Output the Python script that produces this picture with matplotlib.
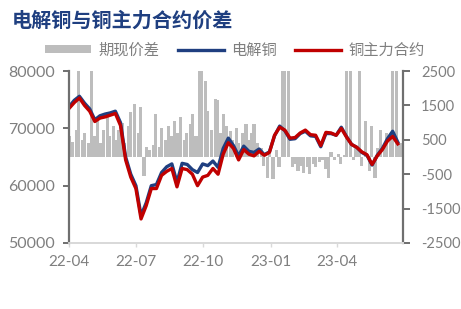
import matplotlib

matplotlib.use("Agg")
import matplotlib.dates as mdates
import matplotlib.pyplot as plt
import pandas as pd
from matplotlib.lines import Line2D
from matplotlib.patches import Patch

TITLE = "电解铜与铜主力合约价差"
LEGEND_LABELS = ["期现价差", "电解铜", "铜主力合约"]
X_TICKS = ["2022-04-01", "2022-07-01", "2022-10-01", "2023-01-01", "2023-04-01"]

# weekly prices (yuan/t)
spot = [
    73800, 74900, 75600, 74400, 73400, 71500, 72200, 72500, 72700, 73000,
    71000, 65000, 62000, 60000, 54800, 57000, 60000, 60200, 62300, 63300,
    63800, 60600, 63900, 63700, 62800, 62300, 63800, 63500, 64300, 63200,
    66500, 68300, 67000, 65200, 66900, 66000, 65800, 66400, 65400, 65900,
    68700, 70400, 69600, 68100, 68200, 69100, 69500, 68700, 68600, 66800,
    69100, 69100, 68800, 70200, 68600, 67200, 66700, 65800, 65300, 63600,
    65300, 66500, 68200, 69500, 67600,
]
futures = [
    73500, 74500, 75300, 74000, 73000, 71200, 71800, 72000, 72300, 72600,
    70500, 64500, 61500, 59500, 54200, 56500, 59500, 59500, 61800, 62500,
    63000, 59800, 63000, 62800, 62000, 60000, 61500, 61800, 63000, 62000,
    65500, 67500, 66500, 64500, 66300, 65500, 65200, 66000, 65300, 65800,
    68800, 70200, 69700, 68300, 68400, 69200, 69700, 68900, 68800, 67000,
    69300, 69200, 68800, 70000, 68500, 67200, 66700, 65900, 65400, 63700,
    65200, 66300, 67800, 68600, 67300,
]

# basis, sampled every 3 trading days (yuan/t)
basis = [
    600, 450, 800, 3000, 500, 700, 400, 3000, 600, 1100,
    400, 800, 1300, 600, 900, 500, 800, 1000, 400, 900,
    1300, 1550, 700, 1450, -550, 300, 200, 350, 1250, 300,
    850, 500, 900, 600, 1050, 700, 1150, 500, 700, 950,
    1250, 600, 3000, 3000, 2200, 1350, 800, 1700, 1650, 700,
    1250, 900, 750, 500, 850, 400, 700, 950, 500, 700,
    950, 400, 250, -250, -600, 100, -650, 200, -300, 3000,
    3000, 2600, -300, -200, -400, -250, -450, -300, -500, -200,
    -300, -150, -100, -350, -600, 150, -100, 100, -200, 50,
    3000, 3000, -100, 250, 3000, -250, 1050, -400, 900, -600,
    250, 800, 300, 700, 500, 3000, 3000, 400,
]

week_dates = pd.date_range("2022-04-01", periods=len(spot), freq="W-FRI")
basis_dates = pd.date_range("2022-04-01", periods=len(basis), freq="3B")

plt.rcParams["font.family"] = ["Lato", "Noto Sans CJK SC", "DejaVu Sans"]
plt.rcParams["axes.unicode_minus"] = False
CN_FONT = ["Noto Sans CJK SC", "DejaVu Sans"]
GREY_TXT = "#7f7f7f"
BAR_COLOR = "#bdbdbd"
BLUE = "#1f3f80"
RED = "#c00000"

fig = plt.figure(figsize=(4.61, 3.09), dpi=100)
ax = fig.add_axes([0.150, 0.2136, 0.724, 0.5564])
ax2 = ax.twinx()

# bars on the right axis, behind the price lines
ax2.bar(basis_dates, basis, width=4.3, color=BAR_COLOR, linewidth=0, align="center")
ax2.set_ylim(-2500, 2500)
ax2.set_yticks(range(-2500, 2501, 1000))

ax.set_zorder(ax2.get_zorder() + 1)
ax.patch.set_visible(False)
ax.plot(week_dates, spot, color=BLUE, linewidth=2.4, solid_joinstyle="round")
ax.plot(week_dates, futures, color=RED, linewidth=2.4, solid_joinstyle="round")
ax.set_ylim(50000, 80000)
ax.set_yticks(range(50000, 80001, 10000))
ax.set_xlim(pd.Timestamp("2022-04-01"), pd.Timestamp("2023-06-30"))
ax.set_xticks(pd.to_datetime(X_TICKS))
ax.xaxis.set_major_formatter(mdates.DateFormatter("%y-%m"))

for a in (ax, ax2):
    a.spines["top"].set_visible(False)
    a.spines["bottom"].set_color("#d9d9d9")
    a.spines["bottom"].set_linewidth(1.3)
    a.spines["left"].set_visible(False)
    a.spines["right"].set_visible(False)

ax.spines["left"].set_visible(True)
ax.spines["left"].set_color("#6f6f6f")
ax.spines["left"].set_linewidth(1.6)
ax2.spines["right"].set_visible(True)
ax2.spines["right"].set_color("#6f6f6f")
ax2.spines["right"].set_linewidth(1.6)

ax.tick_params(axis="y", colors="#6f6f6f", labelcolor=GREY_TXT, labelsize=11.5,
               length=4, width=1.4, pad=6)
ax2.tick_params(axis="y", colors="#6f6f6f", labelcolor=GREY_TXT, labelsize=10.5,
                length=5, width=1.4, pad=8)
ax.tick_params(axis="x", colors="#d9d9d9", labelcolor=GREY_TXT, labelsize=11,
               length=3, width=1.0, pad=6)

fig.text(0.026, 0.935, TITLE, fontsize=14.5, fontweight="bold", color=BLUE,
         family=CN_FONT, va="center")

handles = [
    Patch(facecolor=BAR_COLOR, edgecolor="none"),
    Line2D([0], [0], color=BLUE, linewidth=2.4),
    Line2D([0], [0], color=RED, linewidth=2.4),
]
leg = fig.legend(handles, LEGEND_LABELS, loc="center", bbox_to_anchor=(0.51, 0.838),
                 ncol=3, frameon=False, handlelength=3.0, handleheight=0.35,
                 handletextpad=0.5, columnspacing=1.2,
                 prop={"family": CN_FONT, "size": 11})
for t in leg.get_texts():
    t.set_color(GREY_TXT)

fig.savefig("out.png", dpi=100)
